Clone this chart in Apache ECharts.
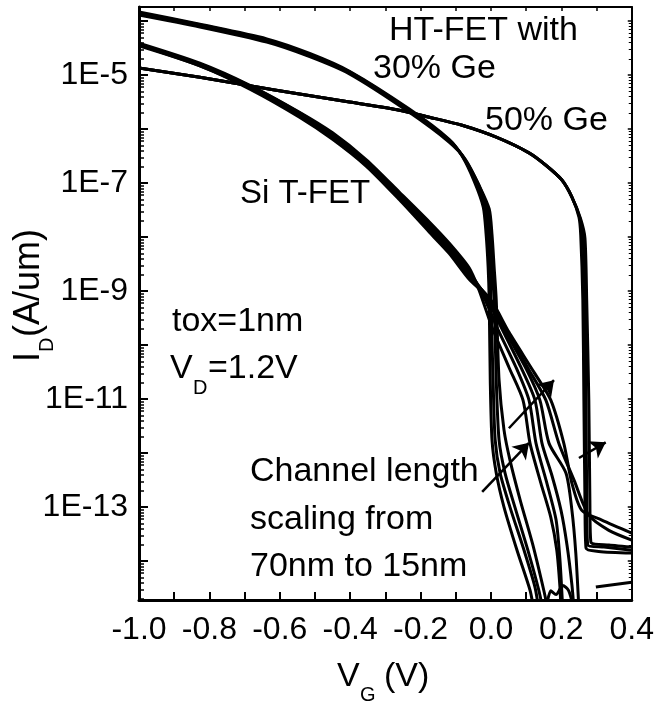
<!DOCTYPE html>
<html><head><meta charset="utf-8">
<script src="https://cdn.jsdelivr.net/npm/echarts@6/dist/echarts.min.js"></script>
<style>html,body{margin:0;padding:0;background:#fff}#c{width:657px;height:704px}</style>
</head><body><div id="c"></div>
<script>
// Each curve: [VG (V), log10 of ID (A/um)]
const si1 = [[-1.000,-4.41],[-0.827,-4.78],[-0.685,-5.19],[-0.544,-5.69],[-0.450,-6.07],[-0.354,-6.57],[-0.260,-7.17],[-0.175,-7.72],[-0.119,-8.11],[-0.062,-8.57],[-0.034,-8.98],[0.003,-9.67],[0.051,-10.41],[0.091,-11.02],[0.111,-11.82],[0.142,-12.56],[0.170,-13.19],[0.187,-13.80],[0.196,-14.48],[0.199,-14.91]];
const si2 = [[-1.000,-4.43],[-0.827,-4.80],[-0.685,-5.20],[-0.544,-5.70],[-0.450,-6.11],[-0.354,-6.61],[-0.260,-7.20],[-0.175,-7.78],[-0.119,-8.17],[-0.062,-8.63],[-0.025,-9.04],[0.017,-9.67],[0.071,-10.41],[0.108,-11.02],[0.128,-11.82],[0.159,-12.56],[0.185,-13.24],[0.196,-13.98],[0.204,-14.91]];
const si3 = [[-1.000,-4.43],[-0.827,-4.80],[-0.685,-5.22],[-0.544,-5.72],[-0.450,-6.13],[-0.354,-6.63],[-0.260,-7.24],[-0.175,-7.81],[-0.119,-8.20],[-0.062,-8.67],[-0.017,-9.07],[0.029,-9.67],[0.085,-10.41],[0.125,-11.02],[0.145,-11.82],[0.173,-12.41],[0.199,-13.06],[0.216,-13.70],[0.230,-14.44],[0.236,-14.91]];
const si4 = [[-1.000,-4.44],[-0.827,-4.81],[-0.685,-5.22],[-0.544,-5.74],[-0.450,-6.15],[-0.354,-6.65],[-0.260,-7.26],[-0.175,-7.83],[-0.119,-8.24],[-0.062,-8.70],[-0.011,-9.11],[0.037,-9.70],[0.100,-10.44],[0.139,-11.02],[0.165,-11.82],[0.213,-12.37],[0.230,-13.06],[0.241,-13.85],[0.250,-14.91]];
const si5 = [[-1.000,-4.44],[-0.827,-4.83],[-0.685,-5.24],[-0.544,-5.76],[-0.450,-6.17],[-0.354,-6.67],[-0.260,-7.28],[-0.175,-7.87],[-0.119,-8.26],[-0.062,-8.74],[-0.005,-9.13],[0.043,-9.72],[0.108,-10.46],[0.156,-11.02],[0.193,-11.82],[0.236,-12.50],[0.278,-13.15],[0.335,-13.43],[0.400,-13.61]];
const si6 = [[-1.000,-4.46],[-0.827,-4.83],[-0.685,-5.26],[-0.544,-5.78],[-0.450,-6.19],[-0.354,-6.69],[-0.260,-7.31],[-0.175,-7.91],[-0.119,-8.30],[-0.062,-8.78],[0.000,-9.17],[0.051,-9.76],[0.122,-10.50],[0.170,-11.02],[0.207,-11.82],[0.230,-12.56],[0.258,-13.06],[0.315,-13.24],[0.400,-13.48]];

const ge30a = [[-1.000,-3.83],[-0.827,-4.06],[-0.637,-4.33],[-0.515,-4.60],[-0.402,-4.93],[-0.232,-5.63],[-0.119,-6.19],[-0.082,-6.50],[-0.048,-6.96],[-0.022,-7.44],[-0.014,-7.93],[-0.008,-8.56],[-0.005,-9.17],[-0.002,-10.65],[0.003,-11.76],[0.015,-12.37],[0.037,-13.00],[0.074,-13.80],[0.111,-14.54],[0.122,-14.91]];
const ge30b = [[-1.000,-3.85],[-0.827,-4.07],[-0.637,-4.35],[-0.515,-4.62],[-0.402,-4.94],[-0.232,-5.65],[-0.119,-6.20],[-0.079,-6.52],[-0.042,-7.00],[-0.017,-7.44],[-0.008,-7.93],[-0.002,-8.56],[0.000,-9.17],[0.006,-10.65],[0.012,-11.76],[0.026,-12.37],[0.054,-13.00],[0.094,-13.80],[0.125,-14.48],[0.136,-14.91]];
const ge30c = [[-1.000,-3.87],[-0.827,-4.09],[-0.637,-4.37],[-0.515,-4.64],[-0.402,-4.96],[-0.232,-5.67],[-0.119,-6.22],[-0.076,-6.54],[-0.036,-7.02],[-0.011,-7.46],[-0.002,-7.94],[0.003,-8.56],[0.009,-9.17],[0.015,-10.65],[0.023,-11.76],[0.040,-12.37],[0.068,-13.00],[0.105,-13.80],[0.136,-14.54],[0.148,-14.91]];
const ge30d = [[-1.000,-3.89],[-0.827,-4.11],[-0.637,-4.39],[-0.515,-4.66],[-0.402,-4.98],[-0.232,-5.69],[-0.119,-6.24],[-0.073,-6.56],[-0.034,-7.04],[-0.005,-7.48],[0.003,-7.96],[0.009,-8.56],[0.015,-9.17],[0.023,-10.65],[0.037,-11.57],[0.054,-12.13],[0.083,-12.87],[0.119,-13.70],[0.150,-14.54],[0.162,-14.91]];

const ge50a = [[-1.000,-4.87],[-0.827,-5.04],[-0.685,-5.20],[-0.544,-5.35],[-0.402,-5.50],[-0.260,-5.65],[-0.175,-5.78],[-0.082,-5.93],[0.015,-6.15],[0.108,-6.44],[0.156,-6.67],[0.201,-6.94],[0.230,-7.26],[0.250,-7.63],[0.255,-7.96],[0.261,-9.17],[0.264,-11.02],[0.267,-12.87],[0.270,-13.76],[0.306,-13.82],[0.400,-13.85]];
const ge50b = [[-1.000,-4.87],[-0.827,-5.04],[-0.685,-5.20],[-0.544,-5.35],[-0.402,-5.50],[-0.260,-5.65],[-0.175,-5.78],[-0.082,-5.93],[0.015,-6.15],[0.108,-6.44],[0.156,-6.67],[0.201,-6.94],[0.230,-7.26],[0.253,-7.65],[0.261,-7.96],[0.267,-9.17],[0.270,-11.02],[0.272,-12.87],[0.275,-13.70],[0.321,-13.74],[0.400,-13.80]];
const ge50c = [[-1.000,-4.87],[-0.827,-5.04],[-0.685,-5.20],[-0.544,-5.35],[-0.402,-5.50],[-0.260,-5.65],[-0.175,-5.78],[-0.082,-5.93],[0.015,-6.15],[0.108,-6.44],[0.156,-6.67],[0.201,-6.94],[0.230,-7.26],[0.255,-7.67],[0.267,-8.02],[0.272,-9.17],[0.278,-11.02],[0.281,-12.87],[0.284,-13.65],[0.335,-13.70],[0.400,-13.74]];

const tailA = [[0.298,-14.48],[0.400,-14.39]];
const tailB = [[0.156,-14.91],[0.170,-14.55],[0.185,-14.62],[0.204,-14.45],[0.221,-14.55],[0.236,-14.91]];

// arrows: [start, end] in [VG, log10 ID]
const arrows = [
  [[-0.025,-12.72],[0.108,-11.81]],
  [[0.051,-11.54],[0.179,-10.65]],
  [[0.250,-12.09],[0.326,-11.80]]
];

const xMin = -1.0, xMax = 0.4, xStep = 0.2;
const yMin = -14.72, yMax = -3.74;
const yMajorTicks = [-14,-13,-12,-11,-10,-9,-8,-7,-6,-5,-4];
const yLabelTicks = [-13,-11,-9,-7,-5];

const yMinorTicks = [];
for (let d = -15; d <= -4; d++) {
  for (let k = 2; k <= 9; k++) {
    const v = d + Math.log10(k);
    if (v > yMin && v < yMax) yMinorTicks.push(v);
  }
}

const FONT = '"Liberation Sans", Arial, Helvetica, sans-serif';
const curves = [si1,si2,si3,si4,si5,si6,ge30a,ge30b,ge30c,ge30d,ge50a,ge50b,ge50c,tailA,tailB];

const chart = echarts.init(document.getElementById('c'), null, {renderer:'canvas'});

const lineSeries = curves.map(d => ({
  type: 'line', data: d, symbol: 'none', smooth: 0.25, animation: false,
  lineStyle: {color:'#000', width: 3}, z: 3
}));

function txt(text, x, y, size) {
  return {type:'text', x:x, y:y, style:{text:text, font: size + 'px ' + FONT, fill:'#000', align:'left', verticalAlign:'middle'}, z: 10};
}

chart.setOption({
  animation: false,
  backgroundColor: '#fff',
  grid: {left: 139, right: 24, top: 7, bottom: 104, containLabel: false},
  xAxis: [
    {type:'value', position:'bottom', min:xMin, max:xMax, interval:xStep,
     axisLine:{show:true, onZero:false, lineStyle:{color:'#000', width:3}},
     axisTick:{show:true, inside:true, length:8, lineStyle:{color:'#000', width:2}},
     minorTick:{show:true, splitNumber:2, length:8, lineStyle:{color:'#000', width:2}},
     splitLine:{show:false},
     axisLabel:{show:true, color:'#000', fontSize:32, fontFamily:FONT, margin:14,
       formatter: v => v.toFixed(1)}},
    {type:'value', position:'top', min:xMin, max:xMax, interval:xStep,
     axisLine:{show:true, onZero:false, lineStyle:{color:'#000', width:2}},
     axisTick:{show:true, inside:true, length:4, lineStyle:{color:'#000', width:1.5}},
     minorTick:{show:true, splitNumber:2, length:4, lineStyle:{color:'#000', width:1.5}},
     splitLine:{show:false}, axisLabel:{show:false}}
  ],
  yAxis: [
    {type:'value', position:'left', min:yMin, max:yMax,
     axisLine:{show:true, onZero:false, lineStyle:{color:'#000', width:3}},
     axisTick:{show:true, inside:true, length:9, customValues: yMajorTicks, lineStyle:{color:'#000', width:2}},
     splitLine:{show:false},
     axisLabel:{show:true, customValues: yLabelTicks, color:'#000', fontSize:32, fontFamily:FONT, margin:11,
       formatter: v => '1E' + Math.round(v)}},
    {type:'value', position:'left', min:yMin, max:yMax,
     axisLine:{show:false, onZero:false},
     axisTick:{show:true, inside:true, length:5, customValues: yMinorTicks, lineStyle:{color:'#000', width:1.5}},
     splitLine:{show:false}, axisLabel:{show:false}},
    {type:'value', position:'right', min:yMin, max:yMax,
     axisLine:{show:true, onZero:false, lineStyle:{color:'#000', width:2}},
     axisTick:{show:true, inside:true, length:4, customValues: yMajorTicks, lineStyle:{color:'#000', width:1.5}},
     splitLine:{show:false}, axisLabel:{show:false}},
    {type:'value', position:'right', min:yMin, max:yMax,
     axisLine:{show:false, onZero:false},
     axisTick:{show:true, inside:true, length:3, customValues: yMinorTicks, lineStyle:{color:'#000', width:1}},
     splitLine:{show:false}, axisLabel:{show:false}}
  ],
  series: lineSeries.concat([{
    type:'lines', coordinateSystem:'cartesian2d', animation:false,
    symbol:['none','arrow'], symbolSize:[11,15],
    lineStyle:{color:'#000', width:2.5, opacity:1},
    data: arrows.map(c => ({coords: c})), z: 4
  }]),
  graphic: [
    txt('HT-FET with', 389, 31, 34),
    txt('30% Ge', 373, 69, 34),
    txt('50% Ge', 485, 121, 34),
    txt('Si T-FET', 240, 194, 33),
    txt('tox=1nm', 172, 322, 34),
    txt('V', 170, 369, 34),
    txt('D', 193, 388, 20),
    txt('=1.2V', 208, 369, 34),
    txt('Channel length', 250, 472, 34),
    txt('scaling from', 250, 520, 34),
    txt('70nm to 15nm', 250, 567, 34),
    txt('V', 337, 677, 34),
    txt('G', 360, 695, 20),
    txt('(V)', 384, 677, 34),
    {type:'group', x:29, y:296, rotation:Math.PI/2, z:10, children:[
      txt('I', -66, 0, 36),
      txt('D', -56, 18, 20),
      txt('(A/um)', -41, 0, 36)
    ]}
  ]
});
</script>
</body></html>
